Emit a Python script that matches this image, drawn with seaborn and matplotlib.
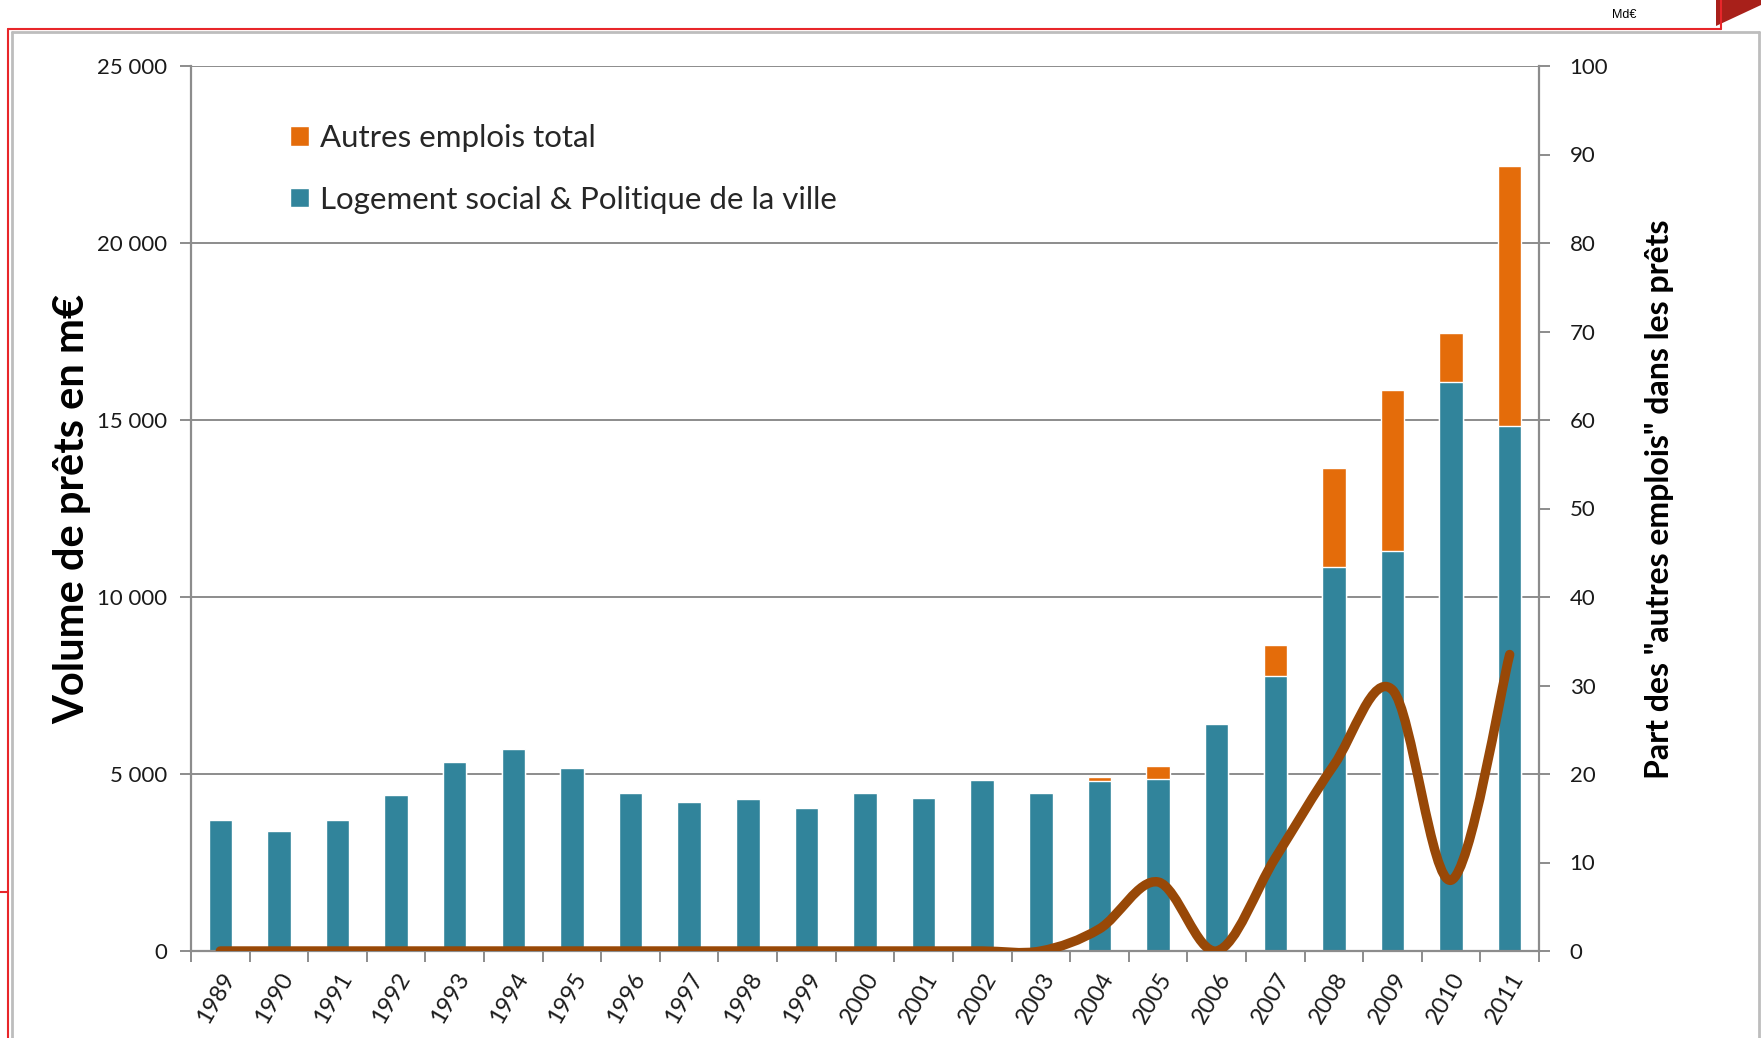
"""
Prêts sur fonds d'épargne : logement social vs autres emplois, 1989-2011.
"""
import pandas as pd
import matplotlib
matplotlib.use("Agg")
import matplotlib.pyplot as plt
import seaborn as sns
from matplotlib.path import Path
from matplotlib.patches import PathPatch, Patch, Polygon
from matplotlib.lines import Line2D
from matplotlib.ticker import FuncFormatter, FixedLocator

# --- data ---
annees = ['1989', '1990', '1991', '1992', '1993', '1994', '1995', '1996',
          '1997', '1998', '1999', '2000', '2001', '2002', '2003', '2004',
          '2005', '2006', '2007', '2008', '2009', '2010', '2011']
logement = [3700, 3380, 3700, 4400, 5350, 5700, 5170, 4470, 4220, 4280,
            4030, 4470, 4310, 4820, 4470, 4790, 4850, 6410, 7770, 10850,
            11290, 16080, 14820]
autres = [0, 0, 0, 0, 0, 0, 0, 0, 0, 0, 0, 0, 0, 0, 0, 130, 380, 0, 860,
          2790, 4570, 1370, 7360]
part_autres = [0, 0, 0, 0, 0, 0, 0, 0, 0, 0, 0, 0, 0, 0, 0, 2.5, 7.8, 0,
               10.5, 21, 29.5, 8, 33.5]

left_ticks = [0, 5000, 10000, 15000, 20000, 25000]
right_ticks = [0, 10, 20, 30, 40, 50, 60, 70, 80, 90, 100]

TEAL = '#31849B'
ORANGE = '#E46C0A'
BROWN = '#984807'
GRID = '#8C8C8C'
FONT = ['Lato', 'DejaVu Sans']

W, H = 1761, 1038


def fx(px):
    return px / W


def fy(py):
    return 1 - py / H


def smooth_path(xs, ys):
    """Bezier path through the points, Excel-style smoothed line."""
    verts = [(xs[0], ys[0])]
    codes = [Path.MOVETO]
    n = len(xs)
    for i in range(n - 1):
        a, b = max(i - 1, 0), min(i + 2, n - 1)
        c1 = (xs[i] + (xs[i + 1] - xs[a]) / 6, ys[i] + (ys[i + 1] - ys[a]) / 6)
        c2 = (xs[i + 1] - (xs[b] - xs[i]) / 6, ys[i + 1] - (ys[b] - ys[i]) / 6)
        verts += [c1, c2, (xs[i + 1], ys[i + 1])]
        codes += [Path.CURVE4] * 3
    return Path(verts, codes)


sns.set_theme(style='white')
plt.rcParams['font.family'] = FONT

df = pd.DataFrame({'annee': annees, 'logement': logement, 'autres': autres})
df['total'] = df['logement'] + df['autres']

fig = plt.figure(figsize=(W / 100, H / 100), dpi=100, facecolor='white')
ax = fig.add_axes([fx(191), fy(951), fx(1539) - fx(191), fy(66) - fy(951)])

sns.barplot(data=df, x='annee', y='total', color=ORANGE, saturation=1,
            width=0.4, errorbar=None, ax=ax)
sns.barplot(data=df, x='annee', y='logement', color=TEAL, saturation=1,
            width=0.4, errorbar=None, ax=ax)

ax.set_xlim(-0.5, len(annees) - 0.5)
ax.set_ylim(0, 25000)
ax.set_yticks(left_ticks)
ax.yaxis.set_major_formatter(FuncFormatter(lambda v, p: f'{int(v):,}'.replace(',', ' ')))
ax.grid(axis='y', color=GRID, lw=1.4)
ax.set_axisbelow(True)

for s in ['left', 'bottom', 'right']:
    ax.spines[s].set_color(GRID)
    ax.spines[s].set_linewidth(1.6)
ax.spines['top'].set_visible(False)

ax.tick_params(axis='y', direction='out', length=8, width=1.4, color=GRID,
               labelsize=16, pad=9, left=True)
ax.set_xticks(range(len(annees)))
ax.set_xticklabels(annees, rotation=60, ha='right', rotation_mode='anchor')
ax.tick_params(axis='x', which='major', length=0, labelsize=17, pad=13)
ax.xaxis.set_minor_locator(FixedLocator([i - 0.5 for i in range(len(annees) + 1)]))
ax.tick_params(axis='x', which='minor', direction='out', length=8, width=1.4,
               color=GRID, bottom=True)
for lab in ax.get_xticklabels() + ax.get_yticklabels():
    lab.set_color('#1a1a1a')

ax.set_xlabel('')
ax.set_ylabel('Volume de prêts en m€', fontsize=30, fontweight='bold', color='black')
ax.yaxis.set_label_coords(-0.074, 0.5)

# right axis: share of "autres emplois"
ax2 = ax.twinx()
ax2.set_ylim(0, 100)
ax2.set_yticks(right_ticks)
ax2.tick_params(axis='y', direction='out', length=8, width=1.4, color=GRID,
                labelsize=16, pad=14)
for lab in ax2.get_yticklabels():
    lab.set_color('#1a1a1a')
for s in ax2.spines.values():
    s.set_visible(False)
ax2.set_ylabel('Part des "autres emplois" dans les prêts', fontsize=23,
               fontweight='bold', color='black')
ax2.yaxis.set_label_coords(1.079, 0.51)

curve = smooth_path(list(range(len(annees))), part_autres)
ax2.add_patch(PathPatch(curve, fill=False, edgecolor=BROWN, lw=6.8,
                        capstyle='round', joinstyle='round', zorder=5))

handles = [Patch(facecolor=ORANGE, label='Autres emplois total'),
           Patch(facecolor=TEAL, label='Logement social & Politique de la ville')]
ax.legend(handles=handles, loc='upper left', bbox_to_anchor=(0.062, 0.952),
          frameon=False, fontsize=22.5, handlelength=0.6, handleheight=0.6,
          handletextpad=0.35, labelspacing=1.07, borderpad=0)

# slide frame decorations
fig.add_artist(Line2D([fx(12), fx(1759)], [fy(32), fy(32)], color='#BDBDBD', lw=2,
                      transform=fig.transFigure))
fig.add_artist(Line2D([fx(12), fx(12)], [fy(32), fy(1038)], color='#BDBDBD', lw=2,
                      transform=fig.transFigure))
fig.add_artist(Line2D([fx(1759), fx(1759)], [fy(32), fy(1038)], color='#BDBDBD', lw=2,
                      transform=fig.transFigure))
fig.add_artist(Line2D([fx(8), fx(1721)], [fy(29), fy(29)], color='#E8262A', lw=1.5,
                      transform=fig.transFigure))
fig.add_artist(Line2D([fx(8), fx(8)], [fy(29), fy(1038)], color='#E8262A', lw=1.5,
                      transform=fig.transFigure))
fig.add_artist(Line2D([fx(1721), fx(1721)], [fy(0), fy(29)], color='#E8262A', lw=1.5,
                      transform=fig.transFigure))
fig.add_artist(Line2D([fx(0), fx(8)], [fy(892), fy(892)], color='#E8262A', lw=1.5,
                      transform=fig.transFigure))
fig.add_artist(Polygon([(fx(1716), fy(0)), (fx(1761), fy(0)), (fx(1761), fy(5)),
                        (fx(1716), fy(26))], closed=True, facecolor='#A8201A',
                       edgecolor='none', transform=fig.transFigure))
fig.text(fx(1624), fy(15), 'Md€', fontsize=9, ha='center', va='center',
         family=['Liberation Sans', 'DejaVu Sans'], color='black')

fig.savefig('out.png', dpi=100, facecolor='white')
plt.close(fig)
